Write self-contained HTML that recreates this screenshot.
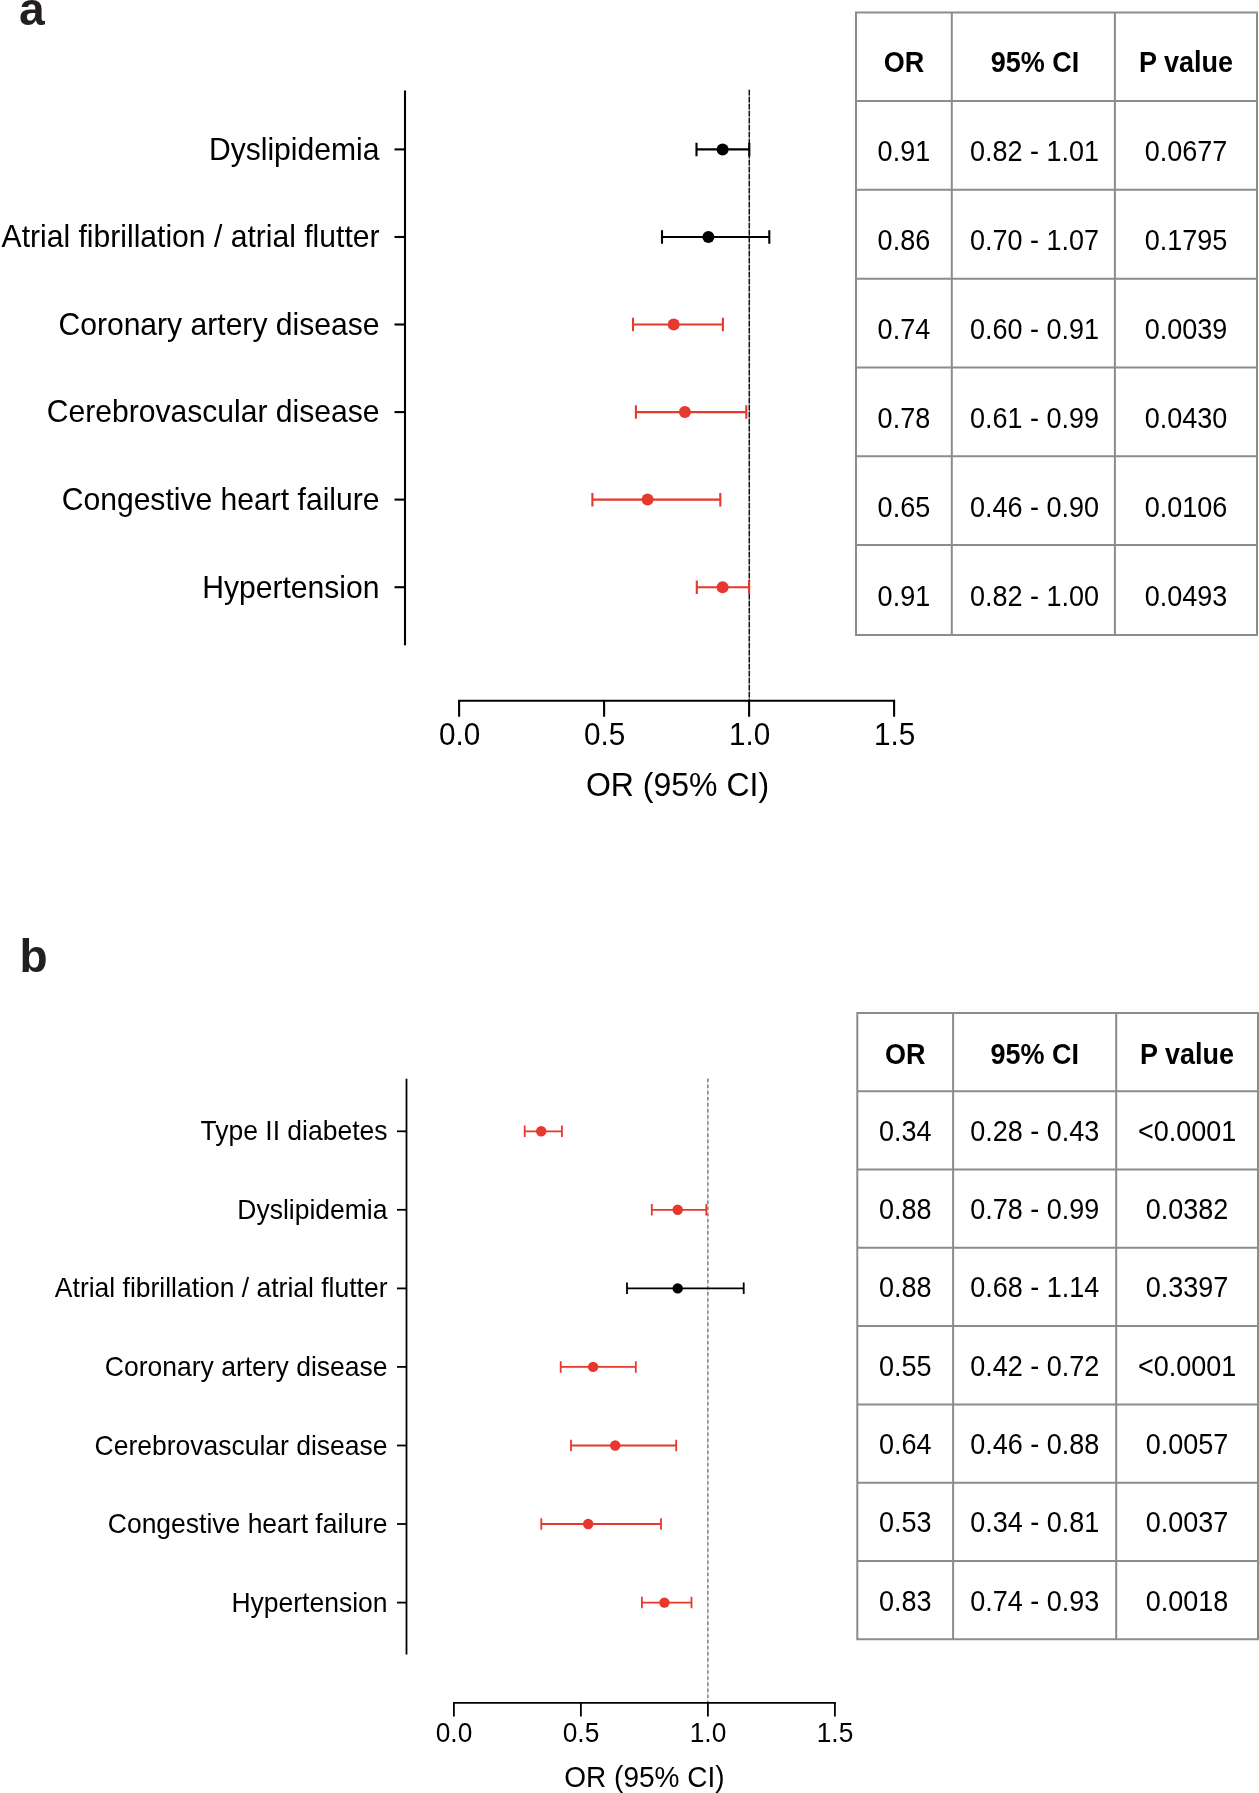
<!DOCTYPE html>
<html lang="en"><head><meta charset="utf-8"><title>Forest plots</title>
<style>html,body{margin:0;padding:0;background:#fff}body{width:1259px;height:1793px;overflow:hidden}svg{display:block}text{font-family:"Liberation Sans",sans-serif;fill:#000}svg{will-change:transform}.pl{font-weight:bold;fill:#231f20}.hd{font-weight:bold}.tb{stroke:#8c8c8c;fill:none}</style></head><body>
<svg width="1259" height="1793" viewBox="0 0 1259 1793">
<rect width="1259" height="1793" fill="#fff"/>
<g>
<text x="19.1" y="25.0" font-size="46.2" class="pl">a</text>
<line x1="405.0" y1="90.4" x2="405.0" y2="645.3" stroke="#000" stroke-width="2.1"/>
<line x1="749.3" y1="89.8" x2="749.3" y2="700.7" stroke="#bdbdbd" stroke-width="1"/>
<line x1="749.3" y1="89.8" x2="749.3" y2="700.7" stroke="#111" stroke-width="1.45" stroke-dasharray="5.6 1.4"/>
<line x1="458.1" y1="700.7" x2="895.1" y2="700.7" stroke="#000" stroke-width="2.1"/>
<line x1="459.1" y1="700.7" x2="459.1" y2="716.7" stroke="#000" stroke-width="2.1"/>
<text x="459.6" y="745.0" font-size="29.7" text-anchor="middle" transform="matrix(1 0 0 1.060 0 -44.70)">0.0</text>
<line x1="604.1" y1="700.7" x2="604.1" y2="716.7" stroke="#000" stroke-width="2.1"/>
<text x="604.6" y="745.0" font-size="29.7" text-anchor="middle" transform="matrix(1 0 0 1.060 0 -44.70)">0.5</text>
<line x1="749.1" y1="700.7" x2="749.1" y2="716.7" stroke="#000" stroke-width="2.1"/>
<text x="749.6" y="745.0" font-size="29.7" text-anchor="middle" transform="matrix(1 0 0 1.060 0 -44.70)">1.0</text>
<line x1="894.1" y1="700.7" x2="894.1" y2="716.7" stroke="#000" stroke-width="2.1"/>
<text x="894.6" y="745.0" font-size="29.7" text-anchor="middle" transform="matrix(1 0 0 1.060 0 -44.70)">1.5</text>
<text x="677.5" y="796.5" font-size="32.0" text-anchor="middle" transform="matrix(1 0 0 1.060 0 -47.79)">OR (95% CI)</text>
<text x="379.5" y="159.8" font-size="30.1" text-anchor="end" transform="matrix(1 0 0 1.020 0 -3.20)">Dyslipidemia</text>
<line x1="394.5" y1="149.4" x2="405.0" y2="149.4" stroke="#000" stroke-width="2.1"/>
<path d="M696.5 149.4H749.3M696.5 142.7V156.2M749.3 142.7V156.2" stroke="#000" stroke-width="2.1" fill="none"/>
<circle cx="722.6" cy="149.4" r="6.0" fill="#000"/>
<text x="379.5" y="247.4" font-size="30.1" text-anchor="end" transform="matrix(1 0 0 1.020 0 -4.95)">Atrial fibrillation / atrial flutter</text>
<line x1="394.5" y1="237.0" x2="405.0" y2="237.0" stroke="#000" stroke-width="2.1"/>
<path d="M662.0 237.0H769.3M662.0 230.2V243.7M769.3 230.2V243.7" stroke="#000" stroke-width="2.1" fill="none"/>
<circle cx="708.4" cy="237.0" r="6.0" fill="#000"/>
<text x="379.5" y="334.9" font-size="30.1" text-anchor="end" transform="matrix(1 0 0 1.020 0 -6.70)">Coronary artery disease</text>
<line x1="394.5" y1="324.5" x2="405.0" y2="324.5" stroke="#000" stroke-width="2.1"/>
<path d="M633.0 324.5H722.9M633.0 317.8V331.3M722.9 317.8V331.3" stroke="#e8372c" stroke-width="2.1" fill="none"/>
<circle cx="673.7" cy="324.5" r="6.0" fill="#e8372c"/>
<text x="379.5" y="422.5" font-size="30.1" text-anchor="end" transform="matrix(1 0 0 1.020 0 -8.45)">Cerebrovascular disease</text>
<line x1="394.5" y1="412.1" x2="405.0" y2="412.1" stroke="#000" stroke-width="2.1"/>
<path d="M635.9 412.1H746.3M635.9 405.3V418.8M746.3 405.3V418.8" stroke="#e8372c" stroke-width="2.1" fill="none"/>
<circle cx="684.9" cy="412.1" r="6.0" fill="#e8372c"/>
<text x="379.5" y="510.0" font-size="30.1" text-anchor="end" transform="matrix(1 0 0 1.020 0 -10.20)">Congestive heart failure</text>
<line x1="394.5" y1="499.6" x2="405.0" y2="499.6" stroke="#000" stroke-width="2.1"/>
<path d="M592.4 499.6H720.3M592.4 492.9V506.4M720.3 492.9V506.4" stroke="#e8372c" stroke-width="2.1" fill="none"/>
<circle cx="647.6" cy="499.6" r="6.0" fill="#e8372c"/>
<text x="379.5" y="597.6" font-size="30.1" text-anchor="end" transform="matrix(1 0 0 1.020 0 -11.95)">Hypertension</text>
<line x1="394.5" y1="587.2" x2="405.0" y2="587.2" stroke="#000" stroke-width="2.1"/>
<path d="M696.8 587.2H749.1M696.8 580.5V594.0M749.1 580.5V594.0" stroke="#e8372c" stroke-width="2.1" fill="none"/>
<circle cx="722.6" cy="587.2" r="6.0" fill="#e8372c"/>
<path class="tb" stroke-width="2.0" d="M855.0 12.5H1258.0M855.0 101.1H1258.0M855.0 189.7H1258.0M855.0 278.7H1258.0M855.0 367.5H1258.0M855.0 456.3H1258.0M855.0 545.1H1258.0M855.0 635.0H1258.0M856.0 12.5V635.0M951.8 12.5V635.0M1114.9 12.5V635.0M1257.0 12.5V635.0"/>
<text x="903.9" y="72.0" font-size="27.0" class="hd" text-anchor="middle" transform="matrix(1 0 0 1.060 0 -4.32)">OR</text>
<text x="1035.1" y="72.0" font-size="27.0" class="hd" text-anchor="middle" transform="matrix(1 0 0 1.060 0 -4.32)">95% CI</text>
<text x="1186.0" y="72.0" font-size="27.0" class="hd" text-anchor="middle" transform="matrix(1 0 0 1.060 0 -4.32)">P value</text>
<text x="903.9" y="161.4" font-size="27.0" text-anchor="middle" transform="matrix(1 0 0 1.060 0 -9.68)">0.91</text>
<text x="1034.5" y="161.4" font-size="27.0" text-anchor="middle" transform="matrix(1 0 0 1.060 0 -9.68)">0.82 - 1.01</text>
<text x="1186.0" y="161.4" font-size="27.0" text-anchor="middle" transform="matrix(1 0 0 1.060 0 -9.68)">0.0677</text>
<text x="903.9" y="250.3" font-size="27.0" text-anchor="middle" transform="matrix(1 0 0 1.060 0 -15.02)">0.86</text>
<text x="1034.5" y="250.3" font-size="27.0" text-anchor="middle" transform="matrix(1 0 0 1.060 0 -15.02)">0.70 - 1.07</text>
<text x="1186.0" y="250.3" font-size="27.0" text-anchor="middle" transform="matrix(1 0 0 1.060 0 -15.02)">0.1795</text>
<text x="903.9" y="339.2" font-size="27.0" text-anchor="middle" transform="matrix(1 0 0 1.060 0 -20.36)">0.74</text>
<text x="1034.5" y="339.2" font-size="27.0" text-anchor="middle" transform="matrix(1 0 0 1.060 0 -20.36)">0.60 - 0.91</text>
<text x="1186.0" y="339.2" font-size="27.0" text-anchor="middle" transform="matrix(1 0 0 1.060 0 -20.36)">0.0039</text>
<text x="903.9" y="428.2" font-size="27.0" text-anchor="middle" transform="matrix(1 0 0 1.060 0 -25.69)">0.78</text>
<text x="1034.5" y="428.2" font-size="27.0" text-anchor="middle" transform="matrix(1 0 0 1.060 0 -25.69)">0.61 - 0.99</text>
<text x="1186.0" y="428.2" font-size="27.0" text-anchor="middle" transform="matrix(1 0 0 1.060 0 -25.69)">0.0430</text>
<text x="903.9" y="517.1" font-size="27.0" text-anchor="middle" transform="matrix(1 0 0 1.060 0 -31.03)">0.65</text>
<text x="1034.5" y="517.1" font-size="27.0" text-anchor="middle" transform="matrix(1 0 0 1.060 0 -31.03)">0.46 - 0.90</text>
<text x="1186.0" y="517.1" font-size="27.0" text-anchor="middle" transform="matrix(1 0 0 1.060 0 -31.03)">0.0106</text>
<text x="903.9" y="606.0" font-size="27.0" text-anchor="middle" transform="matrix(1 0 0 1.060 0 -36.36)">0.91</text>
<text x="1034.5" y="606.0" font-size="27.0" text-anchor="middle" transform="matrix(1 0 0 1.060 0 -36.36)">0.82 - 1.00</text>
<text x="1186.0" y="606.0" font-size="27.0" text-anchor="middle" transform="matrix(1 0 0 1.060 0 -36.36)">0.0493</text>
</g>
<g>
<text x="19.4" y="972.2" font-size="46.0" class="pl">b</text>
<line x1="406.5" y1="1078.7" x2="406.5" y2="1654.5" stroke="#000" stroke-width="1.8"/>
<line x1="707.9" y1="1078.6" x2="707.9" y2="1702.9" stroke="#d4d4d4" stroke-width="1"/>
<line x1="707.9" y1="1078.6" x2="707.9" y2="1702.9" stroke="#5a5a5a" stroke-width="1.05" stroke-dasharray="3.4 2.7"/>
<line x1="453.0" y1="1702.9" x2="835.8" y2="1702.9" stroke="#000" stroke-width="1.8"/>
<line x1="453.9" y1="1702.9" x2="453.9" y2="1716.4" stroke="#000" stroke-width="1.8"/>
<text x="454.0" y="1742.0" font-size="26.3" text-anchor="middle" transform="matrix(1 0 0 1.060 0 -104.52)">0.0</text>
<line x1="580.9" y1="1702.9" x2="580.9" y2="1716.4" stroke="#000" stroke-width="1.8"/>
<text x="581.0" y="1742.0" font-size="26.3" text-anchor="middle" transform="matrix(1 0 0 1.060 0 -104.52)">0.5</text>
<line x1="707.9" y1="1702.9" x2="707.9" y2="1716.4" stroke="#000" stroke-width="1.8"/>
<text x="708.0" y="1742.0" font-size="26.3" text-anchor="middle" transform="matrix(1 0 0 1.060 0 -104.52)">1.0</text>
<line x1="834.9" y1="1702.9" x2="834.9" y2="1716.4" stroke="#000" stroke-width="1.8"/>
<text x="835.0" y="1742.0" font-size="26.3" text-anchor="middle" transform="matrix(1 0 0 1.060 0 -104.52)">1.5</text>
<text x="644.4" y="1787.0" font-size="28.0" text-anchor="middle" transform="matrix(1 0 0 1.060 0 -107.22)">OR (95% CI)</text>
<text x="387.5" y="1140.4" font-size="26.5" text-anchor="end" transform="matrix(1 0 0 1.020 0 -22.81)">Type II diabetes</text>
<line x1="397.0" y1="1131.3" x2="406.5" y2="1131.3" stroke="#000" stroke-width="1.8"/>
<path d="M524.7 1131.3H561.9M524.7 1125.5V1137.0M561.9 1125.5V1137.0" stroke="#e8372c" stroke-width="1.8" fill="none"/>
<circle cx="541.2" cy="1131.3" r="5.2" fill="#e8372c"/>
<text x="387.5" y="1218.9" font-size="26.5" text-anchor="end" transform="matrix(1 0 0 1.020 0 -24.38)">Dyslipidemia</text>
<line x1="397.0" y1="1209.8" x2="406.5" y2="1209.8" stroke="#000" stroke-width="1.8"/>
<path d="M651.8 1209.8H706.3M651.8 1204.1V1215.6M706.3 1204.1V1215.6" stroke="#e8372c" stroke-width="1.8" fill="none"/>
<circle cx="677.7" cy="1209.8" r="5.2" fill="#e8372c"/>
<text x="387.5" y="1297.5" font-size="26.5" text-anchor="end" transform="matrix(1 0 0 1.020 0 -25.95)">Atrial fibrillation / atrial flutter</text>
<line x1="397.0" y1="1288.4" x2="406.5" y2="1288.4" stroke="#000" stroke-width="1.8"/>
<path d="M627.0 1288.4H743.7M627.0 1282.6V1294.1M743.7 1282.6V1294.1" stroke="#000" stroke-width="1.8" fill="none"/>
<circle cx="677.7" cy="1288.4" r="5.2" fill="#000"/>
<text x="387.5" y="1376.0" font-size="26.5" text-anchor="end" transform="matrix(1 0 0 1.020 0 -27.52)">Coronary artery disease</text>
<line x1="397.0" y1="1366.9" x2="406.5" y2="1366.9" stroke="#000" stroke-width="1.8"/>
<path d="M560.7 1366.9H635.8M560.7 1361.2V1372.7M635.8 1361.2V1372.7" stroke="#e8372c" stroke-width="1.8" fill="none"/>
<circle cx="593.1" cy="1366.9" r="5.2" fill="#e8372c"/>
<text x="387.5" y="1454.6" font-size="26.5" text-anchor="end" transform="matrix(1 0 0 1.020 0 -29.09)">Cerebrovascular disease</text>
<line x1="397.0" y1="1445.5" x2="406.5" y2="1445.5" stroke="#000" stroke-width="1.8"/>
<path d="M571.0 1445.5H676.2M571.0 1439.8V1451.2M676.2 1439.8V1451.2" stroke="#e8372c" stroke-width="1.8" fill="none"/>
<circle cx="615.2" cy="1445.5" r="5.2" fill="#e8372c"/>
<text x="387.5" y="1533.1" font-size="26.5" text-anchor="end" transform="matrix(1 0 0 1.020 0 -30.66)">Congestive heart failure</text>
<line x1="397.0" y1="1524.0" x2="406.5" y2="1524.0" stroke="#000" stroke-width="1.8"/>
<path d="M541.3 1524.0H661.0M541.3 1518.3V1529.8M661.0 1518.3V1529.8" stroke="#e8372c" stroke-width="1.8" fill="none"/>
<circle cx="588.2" cy="1524.0" r="5.2" fill="#e8372c"/>
<text x="387.5" y="1611.7" font-size="26.5" text-anchor="end" transform="matrix(1 0 0 1.020 0 -32.23)">Hypertension</text>
<line x1="397.0" y1="1602.6" x2="406.5" y2="1602.6" stroke="#000" stroke-width="1.8"/>
<path d="M641.9 1602.6H691.5M641.9 1596.8V1608.3M691.5 1596.8V1608.3" stroke="#e8372c" stroke-width="1.8" fill="none"/>
<circle cx="664.4" cy="1602.6" r="5.2" fill="#e8372c"/>
<path class="tb" stroke-width="2.0" d="M856.3 1012.9H1259.0M856.3 1091.2H1259.0M856.3 1169.5H1259.0M856.3 1247.8H1259.0M856.3 1326.1H1259.0M856.3 1404.4H1259.0M856.3 1482.7H1259.0M856.3 1561.0H1259.0M856.3 1639.3H1259.0M857.3 1012.9V1639.3M953.1 1012.9V1639.3M1116.2 1012.9V1639.3M1258.0 1012.9V1639.3"/>
<text x="905.2" y="1064.5" font-size="27.0" class="hd" text-anchor="middle" transform="matrix(1 0 0 1.060 0 -63.87)">OR</text>
<text x="1034.7" y="1064.5" font-size="27.0" class="hd" text-anchor="middle" transform="matrix(1 0 0 1.060 0 -63.87)">95% CI</text>
<text x="1187.1" y="1064.5" font-size="27.0" class="hd" text-anchor="middle" transform="matrix(1 0 0 1.060 0 -63.87)">P value</text>
<text x="905.2" y="1140.8" font-size="27.0" text-anchor="middle" transform="matrix(1 0 0 1.060 0 -68.45)">0.34</text>
<text x="1034.7" y="1140.8" font-size="27.0" text-anchor="middle" transform="matrix(1 0 0 1.060 0 -68.45)">0.28 - 0.43</text>
<text x="1187.1" y="1140.8" font-size="27.0" text-anchor="middle" transform="matrix(1 0 0 1.060 0 -68.45)">&lt;0.0001</text>
<text x="905.2" y="1219.1" font-size="27.0" text-anchor="middle" transform="matrix(1 0 0 1.060 0 -73.14)">0.88</text>
<text x="1034.7" y="1219.1" font-size="27.0" text-anchor="middle" transform="matrix(1 0 0 1.060 0 -73.14)">0.78 - 0.99</text>
<text x="1187.1" y="1219.1" font-size="27.0" text-anchor="middle" transform="matrix(1 0 0 1.060 0 -73.14)">0.0382</text>
<text x="905.2" y="1297.3" font-size="27.0" text-anchor="middle" transform="matrix(1 0 0 1.060 0 -77.84)">0.88</text>
<text x="1034.7" y="1297.3" font-size="27.0" text-anchor="middle" transform="matrix(1 0 0 1.060 0 -77.84)">0.68 - 1.14</text>
<text x="1187.1" y="1297.3" font-size="27.0" text-anchor="middle" transform="matrix(1 0 0 1.060 0 -77.84)">0.3397</text>
<text x="905.2" y="1375.7" font-size="27.0" text-anchor="middle" transform="matrix(1 0 0 1.060 0 -82.54)">0.55</text>
<text x="1034.7" y="1375.7" font-size="27.0" text-anchor="middle" transform="matrix(1 0 0 1.060 0 -82.54)">0.42 - 0.72</text>
<text x="1187.1" y="1375.7" font-size="27.0" text-anchor="middle" transform="matrix(1 0 0 1.060 0 -82.54)">&lt;0.0001</text>
<text x="905.2" y="1454.0" font-size="27.0" text-anchor="middle" transform="matrix(1 0 0 1.060 0 -87.24)">0.64</text>
<text x="1034.7" y="1454.0" font-size="27.0" text-anchor="middle" transform="matrix(1 0 0 1.060 0 -87.24)">0.46 - 0.88</text>
<text x="1187.1" y="1454.0" font-size="27.0" text-anchor="middle" transform="matrix(1 0 0 1.060 0 -87.24)">0.0057</text>
<text x="905.2" y="1532.2" font-size="27.0" text-anchor="middle" transform="matrix(1 0 0 1.060 0 -91.94)">0.53</text>
<text x="1034.7" y="1532.2" font-size="27.0" text-anchor="middle" transform="matrix(1 0 0 1.060 0 -91.94)">0.34 - 0.81</text>
<text x="1187.1" y="1532.2" font-size="27.0" text-anchor="middle" transform="matrix(1 0 0 1.060 0 -91.94)">0.0037</text>
<text x="905.2" y="1610.6" font-size="27.0" text-anchor="middle" transform="matrix(1 0 0 1.060 0 -96.63)">0.83</text>
<text x="1034.7" y="1610.6" font-size="27.0" text-anchor="middle" transform="matrix(1 0 0 1.060 0 -96.63)">0.74 - 0.93</text>
<text x="1187.1" y="1610.6" font-size="27.0" text-anchor="middle" transform="matrix(1 0 0 1.060 0 -96.63)">0.0018</text>
</g>
</svg></body></html>
